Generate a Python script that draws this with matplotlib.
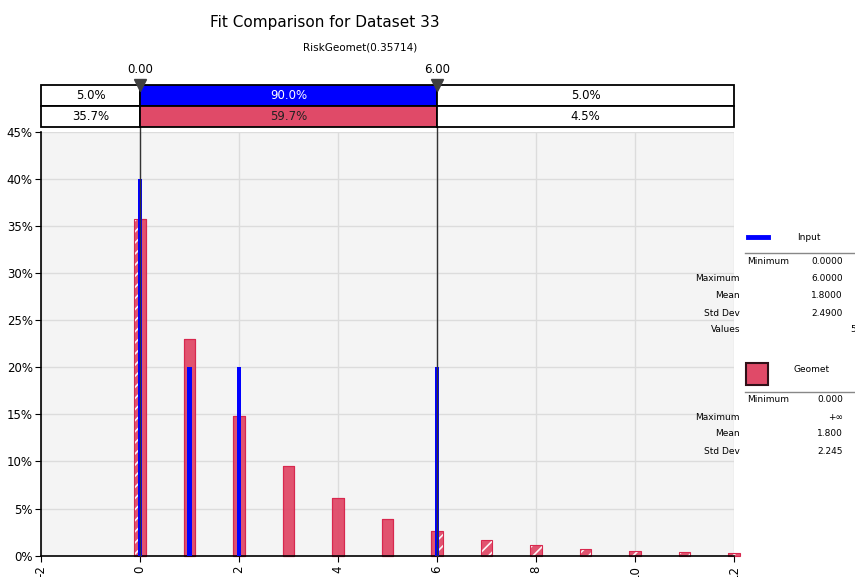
import matplotlib
matplotlib.use("Agg")
import matplotlib.pyplot as plt
from matplotlib.patches import Rectangle
from matplotlib.ticker import FuncFormatter, MultipleLocator

plt.rcParams['font.family'] = ['DejaVu Sans']
plt.rcParams['hatch.linewidth'] = 1.2

# ---- data ----
title = "Fit Comparison for Dataset 33"
subtitle = "RiskGeomet(0.35714)"
fit_x = [0, 1, 2, 3, 4, 5, 6, 7, 8, 9, 10, 11, 12]
fit_pct = [35.7, 23.0, 14.8, 9.5, 6.1, 3.9, 2.6, 1.7, 1.1, 0.7, 0.5, 0.35, 0.25]
input_x = [0, 1, 2, 6]
input_pct = [40.0, 20.0, 20.0, 20.0]
lower_mark, upper_mark = 0.0, 6.0
mark_labels = ["0.00", "6.00"]
band_input = ["5.0%", "90.0%", "5.0%"]
band_fit = ["35.7%", "59.7%", "4.5%"]
input_stats = [("Minimum", "0.0000"), ("Maximum", "6.0000"), ("Mean", "1.8000"),
               ("Std Dev", "2.4900"), ("Values", "5")]
fit_stats = [("Minimum", "0.000"), ("Maximum", "+\u221e"), ("Mean", "1.800"),
             ("Std Dev", "2.245")]
x_ticks = [-2, 0, 2, 4, 6, 8, 10, 12]

W, H = 855, 577
RED = '#E04A68'
RED_EDGE = '#D8284E'
BLUE = '#0000FF'

fig = plt.figure(figsize=(W / 100, H / 100), dpi=100)


def fx(px):
    return px / W


def fy(py):
    return 1 - py / H


# main plotting area
ax_l, ax_r, ax_t, ax_b = 41, 734, 131.7, 555.7
ax = fig.add_axes([fx(ax_l), fy(ax_b), fx(ax_r - ax_l), (ax_b - ax_t) / H])
ax.set_facecolor('#F4F4F4')
ax.set_xlim(-2, 12)
ax.set_ylim(0, 45)
ax.grid(True, color='#DCDCDC', linewidth=1.0)
ax.set_axisbelow(True)
ax.xaxis.set_major_locator(MultipleLocator(2))
ax.yaxis.set_major_locator(MultipleLocator(5))
ax.set_xticks(x_ticks)
ax.set_xticklabels([str(v) for v in x_ticks], rotation=90, fontsize=8.5)
ax.yaxis.set_major_formatter(FuncFormatter(lambda v, p: f"{v:.0f}%"))
ax.tick_params(axis='y', labelsize=8.5, length=4, pad=2)
ax.tick_params(axis='x', length=4, pad=3)
for s in ['top', 'right']:
    ax.spines[s].set_visible(False)
for s in ['left', 'bottom']:
    ax.spines[s].set_color('black')
    ax.spines[s].set_linewidth(1.2)

# fitted distribution bars; the part outside the marker range is hatched
bw = 0.24
for xv, yv in zip(fit_x, fit_pct):
    left, right = xv - bw / 2, xv + bw / 2
    segs = []
    if right <= lower_mark or left >= upper_mark:
        segs.append((left, right, True))
    elif left < lower_mark < right:
        segs += [(left, lower_mark, True), (lower_mark, right, False)]
    elif left < upper_mark < right:
        segs += [(left, upper_mark, False), (upper_mark, right, True)]
    else:
        segs.append((left, right, False))
    for a, b, hatched in segs:
        ax.bar(a, yv, width=b - a, align='edge', color=RED, alpha=0.95,
               edgecolor='white' if hatched else RED_EDGE,
               hatch='///' if hatched else None,
               linewidth=0 if hatched else 0.8, zorder=2, clip_on=False)
    ax.bar(left, yv, width=bw, align='edge', fill=False, edgecolor=RED_EDGE,
           linewidth=0.8, zorder=2.5, clip_on=False)

# input data bars
ax.bar(input_x, input_pct, width=0.085, color=BLUE, zorder=3)

# marker lines through plot and band
band_top, band_mid, band_bot = 85, 106, 127
ymax_ax = (ax_b - band_top) / (ax_b - ax_t)
for m in (lower_mark, upper_mark):
    ax.axvline(m, ymin=0, ymax=ymax_ax, color='#333333', linewidth=1.0,
               clip_on=False, zorder=4)

# percentage band above the plot
bax = fig.add_axes([fx(ax_l), fy(band_bot), fx(ax_r - ax_l), (band_bot - band_top) / H])
bax.set_xlim(-2, 12)
bax.set_ylim(0, 2)
bax.axis('off')
edges = [-2, lower_mark, upper_mark, 12]
row_fill = [['white', BLUE, 'white'], ['white', RED, 'white']]
row_txt_col = [['black', 'white', 'black'], ['black', '#222222', 'black']]
for r, (labels, y0) in enumerate([(band_input, 1), (band_fit, 0)]):
    for i in range(3):
        bax.add_patch(Rectangle((edges[i], y0), edges[i + 1] - edges[i], 1,
                                facecolor=row_fill[r][i], edgecolor='black',
                                linewidth=1.3, clip_on=False))
        bax.text((edges[i] + edges[i + 1]) / 2, y0 + 0.5, labels[i],
                 ha='center', va='center', fontsize=8.5, color=row_txt_col[r][i])
bax.plot([lower_mark, upper_mark], [2.0, 2.0], linestyle='none', marker='v',
         markersize=9, color='#404040', clip_on=False, zorder=10)
for m, lab in zip((lower_mark, upper_mark), mark_labels):
    bax.text(m, 2.75, lab, ha='center', va='center', fontsize=8.5)

# titles
fig.text(fx(325), fy(22), title, ha='center', va='center', fontsize=11)
fig.text(fx(360), fy(47), subtitle, ha='center', va='center', fontsize=7.5)

# legend / statistics panel
fs = 6.5
fig.add_artist(plt.Line2D([fx(748), fx(768)], [fy(237), fy(237)], color=BLUE,
                          linewidth=3.5))
fig.text(fx(809), fy(237), "Input", ha='center', va='center', fontsize=fs)
fig.add_artist(plt.Line2D([fx(745), fx(855)], [fy(253), fy(253)], color='#888888',
                          linewidth=1.0))
rows_y = [261, 279, 296, 313, 330]
for (name, val), yy in zip(input_stats, rows_y):
    if name == "Minimum":
        fig.text(fx(747), fy(yy), name, ha='left', va='center', fontsize=fs)
    else:
        fig.text(fx(740), fy(yy), name, ha='right', va='center', fontsize=fs)
    xr = 856 if name == "Values" else 843
    fig.text(fx(xr), fy(yy), val, ha='right', va='center', fontsize=fs)

fig.add_artist(Rectangle((fx(746), fy(385)), fx(22), (385 - 363) / H,
                         facecolor=RED, edgecolor='#301018', linewidth=1.5))
fig.text(fx(812), fy(370), "Geomet", ha='center', va='center', fontsize=fs)
fig.add_artist(plt.Line2D([fx(745), fx(855)], [fy(392), fy(392)], color='#888888',
                          linewidth=1.0))
rows_y2 = [400, 417, 434, 451]
for (name, val), yy in zip(fit_stats, rows_y2):
    if name == "Minimum":
        fig.text(fx(747), fy(yy), name, ha='left', va='center', fontsize=fs)
    else:
        fig.text(fx(740), fy(yy), name, ha='right', va='center', fontsize=fs)
    fig.text(fx(843), fy(yy), val, ha='right', va='center', fontsize=fs)

fig.savefig("out.png", dpi=100)
